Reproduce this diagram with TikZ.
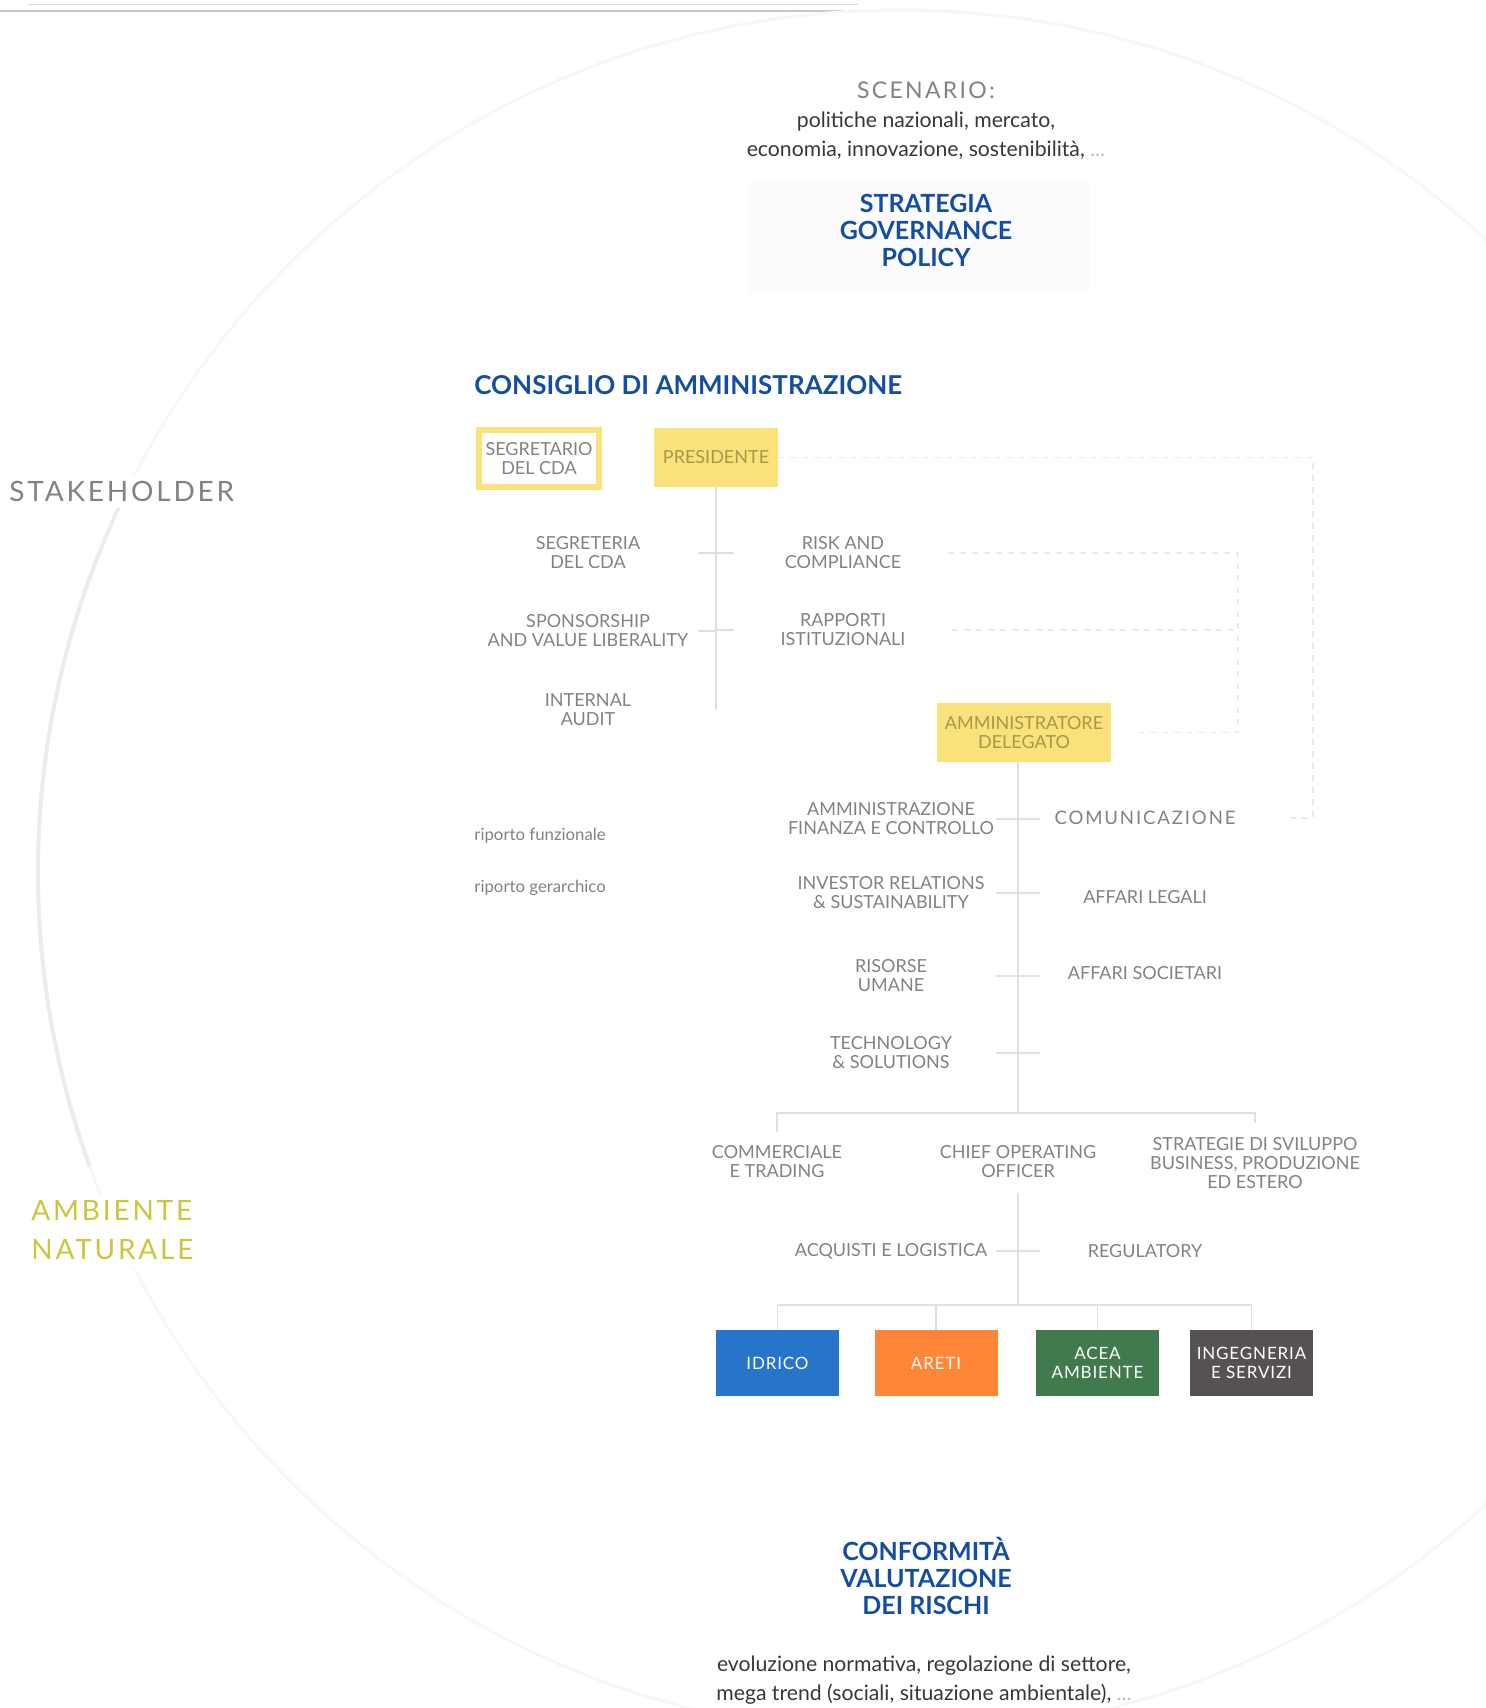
\documentclass[tikz,border=0pt]{standalone}
\usepackage{fontspec}
\setmainfont{Lato}
\newfontfamily\widefont[LetterSpace=10]{Lato}
\newfontfamily\boxfont[LetterSpace=5]{Lato}
\usetikzlibrary{calc}

\definecolor{acblue}{RGB}{20,78,160}
\definecolor{labgray}{RGB}{130,130,130}
\definecolor{darktxt}{RGB}{55,55,55}
\definecolor{boxyel}{RGB}{250,226,122}
\definecolor{yeltxt}{RGB}{168,150,80}
\definecolor{lnkgray}{RGB}{224,224,224}
\definecolor{dashgray}{RGB}{234,234,234}
\definecolor{circgray}{RGB}{236,236,236}
\definecolor{ringgray}{RGB}{247,247,247}
\definecolor{haze}{RGB}{252,252,254}
\definecolor{idricoblue}{RGB}{38,117,202}
\definecolor{aretiorange}{RGB}{255,133,55}
\definecolor{aceagreen}{RGB}{64,122,77}
\definecolor{inggray}{RGB}{87,82,82}
\definecolor{ambyel}{RGB}{204,198,60}

\newcommand{\labsize}{\fontsize{9}{9.5}\selectfont}

\begin{document}
\begin{tikzpicture}[x=0.5pt, y=-0.5pt,
	lab/.style={align=center, text=labgray, font=\labsize, inner sep=1pt},
	yelbox/.style={align=center, text=yeltxt, font=\labsize, minimum height=29.5pt, inner sep=0pt},
	unitbox/.style={align=center, text=white, font=\boxfont\fontsize{8.5}{9.5}\selectfont, minimum width=61.5pt, minimum height=33pt, inner sep=0pt},
	bluetitle/.style={align=center, text=acblue, font=\bfseries\fontsize{12.5}{13.5}\selectfont},
	legend/.style={anchor=west, inner sep=0pt, text=labgray, font=\fontsize{8.4}{9}\selectfont},
	gerarch/.style={draw=lnkgray, line width=0.6pt},
	funz/.style={draw=dashgray, line width=0.6pt, dashed}]
	\useasboundingbox (0,0) rectangle (1486,1708);
	% page frame leftovers and the big ring
	\draw[gray!45, line width=1pt] (0,11) -- (858,11);
	\draw[gray!30, line width=0.5pt] (28,4) -- (858,4);
	\draw[ringgray, line width=1.5pt] (900,872) circle [radius=862];
	\draw[circgray, line width=2pt] (900,872) ++(160:862) arc [start angle=160, end angle=205, radius=862];
	\fill[haze] (749,180) rectangle (1090,293);

	\node (scen) at (926,90) [text=labgray, font=\widefont\fontsize{11.5}{12}\selectfont] {SCENARIO:};
	\node (pol) at (926,135.5) [align=center, text=darktxt, font=\fontsize{10.6}{14.5}\selectfont] {politiche nazionali, mercato,\\economia, innovazione, sostenibilità, \textcolor{gray!50}{...}};
	\node (strat) at (926,230) [bluetitle] {STRATEGIA\\GOVERNANCE\\POLICY};
	\node (cons) at (474,385) [anchor=west, inner sep=0pt, text=acblue, font=\bfseries\fontsize{13}{13}\selectfont] {CONSIGLIO DI AMMINISTRAZIONE};

	\node (stake) at (3,491) [anchor=west, fill=white, inner sep=3pt, text=labgray, font=\widefont\fontsize{14}{14}\selectfont] {STAKEHOLDER};
	\node (amb) at (25,1230) [anchor=west, align=left, fill=white, inner sep=3pt, text=ambyel, font=\widefont\fontsize{14}{19.5}\selectfont] {AMBIENTE\\NATURALE};

	% consiglio
	\node (segr) at (539,458.5) [yelbox, draw=boxyel, line width=3pt, text=labgray, minimum width=60pt, minimum height=28.5pt] {SEGRETARIO\\DEL CDA};
	\node (pres) at (716,457.5) [yelbox, fill=boxyel, minimum width=62pt] {PRESIDENTE};
	\node (segcda) at (588,553) [lab] {SEGRETERIA\\DEL CDA};
	\node (spons) at (588,631) [lab] {SPONSORSHIP\\AND VALUE LIBERALITY};
	\node (audit) at (588,710) [lab] {INTERNAL\\AUDIT};
	\node (risk) at (843,553) [lab] {RISK AND\\COMPLIANCE};
	\node (rapp) at (843,630) [lab] {RAPPORTI\\ISTITUZIONALI};

	% amministratore delegato
	\node (ad) at (1024,732.5) [yelbox, fill=boxyel, minimum width=87pt] {AMMINISTRATORE\\DELEGATO};
	\node (afc) at (891,819) [lab] {AMMINISTRAZIONE\\FINANZA E CONTROLLO};
	\node (inv) at (891,893) [lab] {INVESTOR RELATIONS\\\& SUSTAINABILITY};
	\node (hr) at (891,976) [lab] {RISORSE\\UMANE};
	\node (tech) at (891,1053) [lab] {TECHNOLOGY\\\& SOLUTIONS};
	\node (comun) at (1145,818) [lab, font=\widefont\fontsize{9.3}{10}\selectfont] {COMUNICAZIONE};
	\node (legali) at (1145,897) [lab] {AFFARI LEGALI};
	\node (soc) at (1145,973) [lab] {AFFARI SOCIETARI};

	\node (rfunz) at (474,836) [legend] {riporto funzionale};
	\node (rger) at (474,888) [legend] {riporto gerarchico};

	\node (comm) at (777,1162) [lab] {COMMERCIALE\\E TRADING};
	\node (coo) at (1018,1162) [lab] {CHIEF OPERATING\\OFFICER};
	\node (svil) at (1255,1163) [lab] {STRATEGIE DI SVILUPPO\\BUSINESS, PRODUZIONE\\ED ESTERO};
	\node (acq) at (891,1251) [lab] {ACQUISTI E LOGISTICA};
	\node (reg) at (1145,1251) [lab] {REGULATORY};

	\node (idrico) at (777.5,1363) [unitbox, fill=idricoblue] {IDRICO};
	\node (areti) at (936,1363) [unitbox, fill=aretiorange] {ARETI};
	\node (acea) at (1097.5,1363) [unitbox, fill=aceagreen] {ACEA\\AMBIENTE};
	\node (ing) at (1251.5,1363) [unitbox, fill=inggray] {INGEGNERIA\\E SERVIZI};

	\node (conf) at (926,1576) [bluetitle] {CONFORMITÀ\\VALUTAZIONE\\DEI RISCHI};
	\node (evol) at (924,1680) [align=center, text=darktxt, font=\fontsize{10.6}{14.5}\selectfont] {evoluzione normativa, regolazione di settore,\\mega trend (sociali, situazione ambientale), \textcolor{gray!50}{...}};

	% riporto gerarchico
	\draw[gerarch] (pres.south) -- (pres.south |- audit);
	\foreach \n in {segcda, spons}
		\draw[gerarch] (pres.south |- \n) -- ++(-18,0);
	\foreach \n in {risk, rapp}
		\draw[gerarch] (pres.south |- \n) -- ++(18,0);
	\coordinate (adbar) at (1018,1113);
	\draw[gerarch] (ad.south -| adbar) -- (adbar);
	\foreach \n in {afc, inv, hr, tech}
		\draw[gerarch] (adbar |- \n) ++(-22,0) -- ++(44,0);
	\draw[gerarch, shorten <=6pt, shorten >=6pt] (comm.north) |- (adbar) -| (svil.north);
	\coordinate (unitbar) at (1018,1305);
	\draw[gerarch, shorten <=6pt] (coo.south) -- (unitbar);
	\draw[gerarch] (unitbar |- acq) ++(-22,0) -- ++(44,0);
	\draw[gerarch] (idrico.north |- unitbar) -- (ing.north |- unitbar);
	\foreach \n in {idrico, areti, acea, ing}
		\draw[gerarch] (\n.north |- unitbar) -- (\n.north);

	% riporto funzionale
	\coordinate (fx) at (1313,457.5);
	\draw[funz] (pres.east) -- (fx) |- ([xshift=25pt]comun.east);
	\coordinate (gx) at (1238,553);
	\draw[funz, shorten >=11pt] ([xshift=22pt]risk.east) -- (gx) |- (ad.east);
	\draw[funz] ([xshift=22pt]rapp.east) -- (rapp.east -| gx);
\end{tikzpicture}
\end{document}
